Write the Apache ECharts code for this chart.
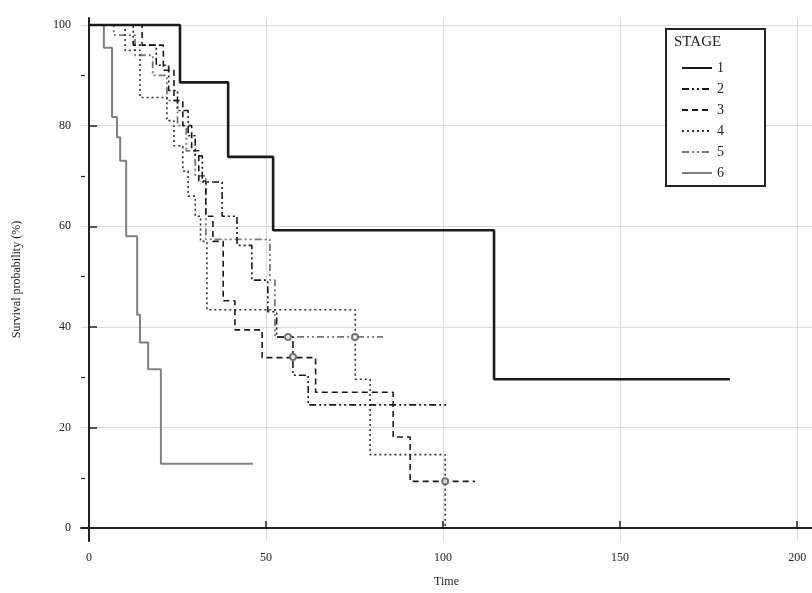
<!DOCTYPE html>
<html>
<head>
<meta charset="utf-8">
<script src="https://cdn.jsdelivr.net/npm/echarts@6/dist/echarts.min.js"></script>
<style>
html, body { margin: 0; padding: 0; background: #fff; }
#chart { width: 812px; height: 593px; }
</style>
</head>
<body>
<div id="chart"></div>
<script>
// survival curves per stage, [time, survival %] at each step
var stageNames = ['1', '2', '3', '4', '5', '6'];
var stage1 = [[0, 100], [25.7, 88.6], [39.3, 73.8], [52, 59.2], [114.4, 29.6], [181, 29.6]];
var stage2 = [[0, 100], [12.5, 96], [19, 92], [22.5, 87], [25, 83], [28, 78], [30, 74], [32, 68.8], [37.6, 62], [41.8, 56.2], [46, 49.3], [50.5, 43], [53, 38], [57.6, 30.4], [61.9, 24.5], [101, 24.5]];
var stage3 = [[0, 100], [15, 96], [21, 91], [24, 85], [26.5, 80], [29, 75], [31, 69], [33, 62], [35, 57], [37.9, 45.2], [41.2, 39.4], [48.9, 33.9], [64, 27], [85.9, 18.1], [90.7, 9.3], [109, 9.3]];
var stage4 = [[0, 100], [10.2, 95], [14.4, 85.6], [22, 81], [24, 76], [26.5, 71], [28, 66], [30, 62], [31.5, 57], [33.3, 43.4], [75.2, 29.6], [79.4, 14.6], [100.6, 0]];
var stage5 = [[0, 100], [7, 98], [13, 94], [18, 90], [22, 85], [25, 80], [27.5, 75], [30, 70], [33, 57.4], [51.1, 49.3], [52.5, 38], [83, 38]];
var stage6 = [[0, 100], [4.2, 95.5], [6.5, 81.7], [7.9, 77.7], [8.8, 73], [10.5, 58], [13.6, 42.4], [14.4, 36.9], [16.7, 31.6], [20.3, 12.8], [46.3, 12.8]];
var censored = [[56.2, 38], [75.1, 38], [57.6, 34], [100.6, 9.3]];

var xTicks = [0, 50, 100, 150, 200];
var yTicks = [0, 20, 40, 60, 80, 100];
var yMinorTicks = [10, 30, 50, 70, 90];

var font = 'Liberation Serif';
var styles = [
  { color: '#1a1a1a', width: 2.6, type: 'solid' },
  { color: '#1a1a1a', width: 1.6, type: [7, 3, 2, 3, 2, 3] },
  { color: '#1a1a1a', width: 1.6, type: [6, 4] },
  { color: '#333', width: 1.6, type: [2, 3] },
  { color: '#777', width: 1.8, type: [7, 3, 2, 3, 2, 3] },
  { color: '#808080', width: 2, type: 'solid' }
];
var curves = [stage1, stage2, stage3, stage4, stage5, stage6];

var series = curves.map(function (d, i) {
  return {
    name: stageNames[i],
    type: 'line',
    step: 'end',
    data: d,
    symbol: 'none',
    lineStyle: styles[i],
    itemStyle: { color: styles[i].color },
    z: 10 - i
  };
});
series.push({
  name: 'censored',
  type: 'scatter',
  data: censored,
  symbol: 'emptyCircle',
  symbolSize: 6,
  itemStyle: { color: '#555', borderWidth: 1.2 },
  z: 12
});

var chart = echarts.init(document.getElementById('chart'));
chart.setOption({
  animation: false,
  backgroundColor: '#fff',
  textStyle: { fontFamily: font },
  grid: { left: 81, right: 0, top: 18, bottom: 48, containLabel: false },
  xAxis: {
    type: 'value',
    min: -2.26,
    max: 204.2,
    name: 'Time',
    nameLocation: 'middle',
    nameGap: 35,
    nameTextStyle: { fontFamily: font, fontSize: 12, color: '#222' },
    axisLine: { lineStyle: { color: '#222', width: 2 } },
    axisTick: { inside: true, length: 7, customValues: xTicks, lineStyle: { color: '#222', width: 1.5 } },
    axisLabel: { customValues: xTicks, fontFamily: font, fontSize: 12, color: '#222', margin: 11 },
    splitLine: { show: true, lineStyle: { color: '#dcdcdc', width: 1 } }
  },
  yAxis: [{
    type: 'value',
    min: -2.56,
    max: 101.4,
    name: 'Survival probability (%)',
    nameLocation: 'middle',
    nameGap: 58,
    nameTextStyle: { fontFamily: font, fontSize: 12, color: '#222' },
    axisLine: { lineStyle: { color: '#222', width: 2 } },
    axisTick: { inside: true, length: 8, customValues: yTicks, lineStyle: { color: '#222', width: 1.5 } },
    axisLabel: { customValues: yTicks, fontFamily: font, fontSize: 12, color: '#222', margin: 10 },
    splitLine: { show: true, lineStyle: { color: '#dcdcdc', width: 1 } }
  }, {
    type: 'value',
    position: 'left',
    min: -2.56,
    max: 101.4,
    axisLine: { show: false },
    axisTick: { inside: true, length: 4, customValues: yMinorTicks, lineStyle: { color: '#222', width: 1.2 } },
    axisLabel: { show: false },
    splitLine: { show: false }
  }],
  legend: {
    data: stageNames,
    orient: 'vertical',
    left: 676,
    top: 55,
    itemWidth: 30,
    itemHeight: 10,
    itemGap: 5,
    z: 30,
    itemStyle: { opacity: 0 },
    textStyle: { fontFamily: font, fontSize: 14, color: '#222', lineHeight: 16 }
  },
  graphic: [
    {
      type: 'rect',
      shape: { x: 666, y: 29, width: 99, height: 157 },
      style: { fill: '#fff', stroke: '#222', lineWidth: 2 },
      z: 5
    },
    {
      type: 'text',
      left: 674,
      top: 35,
      style: { text: 'STAGE', font: '15px "Liberation Serif"', fill: '#222' },
      z: 31
    }
  ],
  series: series
});
</script>
</body>
</html>
